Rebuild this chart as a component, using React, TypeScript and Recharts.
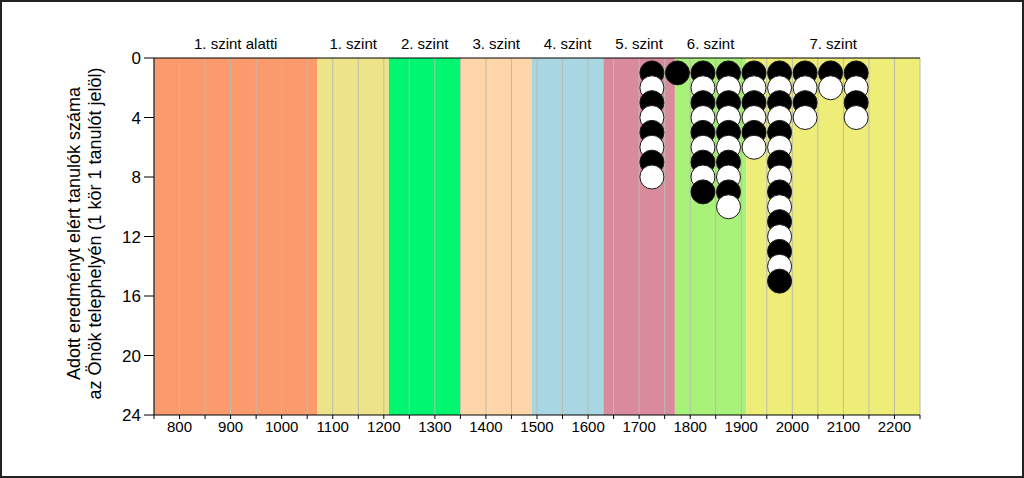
import { ScatterChart, Scatter, XAxis, YAxis, ReferenceArea, ReferenceLine } from 'recharts';

// score bands (levels) on the horizontal axis
const levelNames = ['1. szint alatti', '1. szint', '2. szint', '3. szint', '4. szint', '5. szint', '6. szint', '7. szint'];
const levelStarts = [750, 1070, 1210, 1350, 1490, 1630, 1770, 1910];
const levelEnds = [1070, 1210, 1350, 1490, 1630, 1770, 1910, 2250];
const levelColors = ['#FB9A6C', '#EDE48A', '#00F570', '#FFD6AA', '#A9D6E3', '#D98A9C', '#A9F27A', '#EDED78'];

// one column of circles per score group, one circle per student
const columnScores = [1725, 1775, 1825, 1875, 1925, 1975, 2025, 2075, 2125];
const columnCounts = [8, 1, 9, 10, 6, 15, 4, 2, 4];

const xTicks = [750, 800, 850, 900, 950, 1000, 1050, 1100, 1150, 1200, 1250, 1300, 1350, 1400, 1450, 1500, 1550, 1600, 1650, 1700, 1750, 1800, 1850, 1900, 1950, 2000, 2050, 2100, 2150, 2200, 2250];
const yTicks = [0, 4, 8, 12, 16, 20, 24];

const circles = columnScores.flatMap((score, i) =>
  Array.from({ length: columnCounts[i] }, (_, k) => ({
    score,
    count: k + 1,
    fill: k % 2 === 0 ? '#000' : '#fff',
  }))
);

const Dot = (props: any) => {
  const { cx, cy, payload } = props;
  return <circle cx={cx} cy={cy} r={12} fill={payload.fill} stroke="#1a1a1a" strokeWidth={1} />;
};

const YLabelLines = (props: any) => {
  const vb = props.viewBox || {};
  const cy = (vb.y || 0) + (vb.height || 0) / 2 - 3;
  return (
    <g fontSize={18} fill="#000" fontFamily="Arial, 'Liberation Sans', sans-serif">
      <text transform={`translate(80, ${cy}) rotate(-90)`} textAnchor="middle">
        Adott eredményt elért tanulók száma
      </text>
      <text transform={`translate(101, ${cy}) rotate(-90)`} textAnchor="middle">
        az Önök telephelyén (1 kör 1 tanulót jelöl)
      </text>
    </g>
  );
};

export default function App() {
  const font = "Arial, 'Liberation Sans', sans-serif";
  return (
    <div style={{ position: 'absolute', left: 0, top: 0, width: 1024, height: 478, background: '#fff' }}>
      <ScatterChart
        width={1024}
        height={478}
        margin={{ top: 28, right: 104, bottom: 33, left: 94 }}
        style={{ fontFamily: font }}
      >
        <XAxis
          xAxisId="bottom"
          dataKey="score"
          type="number"
          domain={[750, 2250]}
          ticks={xTicks}
          interval={0}
          height={30}
          tickSize={4}
          tickMargin={2}
          tickFormatter={(v: number) => (v % 100 === 0 && v > 750 && v < 2250 ? String(v) : '')}
          tick={{ fill: '#000', fontSize: 15 }}
          axisLine={{ stroke: '#000' }}
          tickLine={{ stroke: '#000' }}
        />
        <XAxis
          xAxisId="top"
          orientation="top"
          type="number"
          domain={[750, 2250]}
          ticks={xTicks}
          interval={0}
          height={30}
          tickSize={5}
          tickFormatter={() => ''}
          axisLine={{ stroke: '#000' }}
          tickLine={{ stroke: '#000' }}
        />
        <YAxis
          yAxisId="y"
          dataKey="count"
          type="number"
          domain={[0, 24]}
          reversed
          ticks={yTicks}
          interval={0}
          width={60}
          tickSize={10}
          tickMargin={3}
          tick={{ fill: '#000', fontSize: 17 }}
          axisLine={{ stroke: '#000' }}
          tickLine={{ stroke: '#000' }}
          label={<YLabelLines />}
        />
        {levelNames.map((name, i) => (
          <ReferenceArea
            key={name}
            xAxisId="bottom"
            yAxisId="y"
            x1={levelStarts[i]}
            x2={levelEnds[i]}
            y1={0}
            y2={24}
            fill={levelColors[i]}
            fillOpacity={1}
            stroke="none"
            label={{ value: name, position: 'top', offset: 9, fill: '#000', fontSize: 15 }}
          />
        ))}
        {xTicks.map((t) => (
          <ReferenceLine key={t} xAxisId="bottom" yAxisId="y" x={t} stroke="#bcbcae" strokeWidth={1} />
        ))}
        <Scatter
          xAxisId="bottom"
          yAxisId="y"
          data={circles}
          shape={<Dot />}
          isAnimationActive={false}
        />
      </ScatterChart>
      <div
        style={{
          position: 'absolute',
          left: 0,
          top: 0,
          width: 1024,
          height: 478,
          boxSizing: 'border-box',
          border: '2px solid #222',
          pointerEvents: 'none',
        }}
      />
    </div>
  );
}
